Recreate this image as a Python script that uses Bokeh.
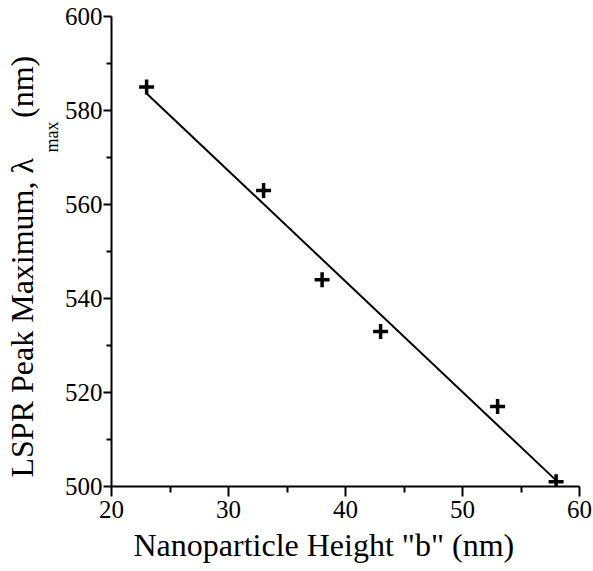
from bokeh.plotting import figure
from bokeh.models import Title, FixedTicker
from bokeh.embed import file_html
from bokeh.resources import INLINE
import numpy as np

# LSPR peak maximum vs. nanoparticle height
height_nm = [23, 33, 38, 43, 53, 58]
lambda_max_nm = [585, 563, 544, 533, 517, 501]

x_ticks = [20, 30, 40, 50, 60]
y_ticks = [500, 520, 540, 560, 580, 600]

x_title = 'Nanoparticle Height "b" (nm)'
y_title_main = "LSPR Peak Maximum, \u03bb"
y_title_sub = "max"
y_title_unit = "(nm)"

FONT = "Liberation Serif"
NBSP = "\u00a0"

p = figure(width=593, height=571, x_range=(20, 60), y_range=(500, 600),
           output_backend="svg", toolbar_location=None,
           min_border_left=111, min_border_right=14,
           min_border_top=16, min_border_bottom=85)

p.outline_line_color = None
p.xgrid.visible = False
p.ygrid.visible = False
p.background_fill_color = "white"
p.border_fill_color = "white"

# linear least-squares fit drawn across the measured range
slope, intercept = np.polyfit(height_nm, lambda_max_nm, 1)
fit_x = [min(height_nm), max(height_nm)]
fit_y = [slope * v + intercept for v in fit_x]
p.line(fit_x, fit_y, line_color="black", line_width=2)

p.scatter(height_nm, lambda_max_nm, marker="cross", size=15,
          line_color="black", line_width=3.5)

for ax, ticks in ((p.xaxis, x_ticks), (p.yaxis, y_ticks)):
    ax.ticker = FixedTicker(ticks=ticks,
                            minor_ticks=[(a + b) / 2 for a, b in zip(ticks[:-1], ticks[1:])])
    ax.axis_line_width = 2
    ax.axis_line_color = "black"
    ax.major_tick_line_width = 2
    ax.minor_tick_line_width = 2
    ax.major_tick_line_color = "black"
    ax.minor_tick_line_color = "black"
    ax.major_tick_in = 0
    ax.minor_tick_in = 0
    ax.major_label_text_font = FONT
    ax.major_label_text_font_size = "25px"
    ax.major_label_text_color = "black"

p.xaxis.major_tick_out = 10
p.xaxis.minor_tick_out = 6
p.xaxis.major_label_standoff = 4
p.yaxis.major_tick_out = 8
p.yaxis.minor_tick_out = 5
p.yaxis.major_label_standoff = 1

title_style = dict(text_font=FONT, text_font_style="normal", text_color="black",
                   align="left")

# x-axis title, set slightly left of the frame centre
p.add_layout(Title(text=x_title, text_font_size="32px", offset=22, standoff=12,
                   vertical_align="top", **title_style), "below")

# y-axis title: subscript "max" sits between the tick labels and the main text,
# the main line leaves a gap for it before the unit
p.add_layout(Title(text=y_title_sub, text_font_size="18px",
                   offset=334, standoff=0, **title_style), "left")
p.add_layout(Title(text=y_title_main + NBSP * 5 + y_title_unit,
                   text_font_size="32px", offset=9, standoff=0,
                   **title_style), "left")

open("out.html", "w").write(file_html(p, INLINE))
